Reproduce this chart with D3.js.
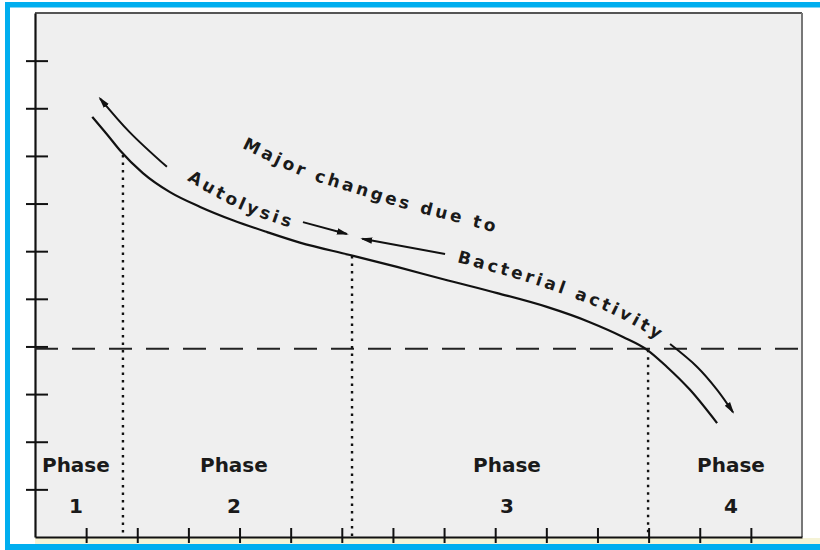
<!DOCTYPE html>
<html>
<head>
<meta charset="utf-8">
<script src="https://cdn.jsdelivr.net/npm/d3@7"></script>
<style>
  html, body { margin: 0; padding: 0; background: #fff; }
  svg { display: block; }
</style>
</head>
<body>
<svg id="chart"></svg>
<script>
// tick values (no labels on either axis)
const xTickValues = [1, 2, 3, 4, 5, 6, 7, 8, 9, 10, 11, 12, 13, 14];
const yTickValues = [1, 2, 3, 4, 5, 6, 7, 8, 9, 10];

// main curve (x, y in axis units)
const curve = [
    [1.12, 8.82], [1.41, 8.45], [1.66, 8.12], [2.11, 7.64], [2.64, 7.24],
    [3.23, 6.93], [3.87, 6.65], [4.54, 6.40], [5.18, 6.18], [6.16, 5.92],
    [7.08, 5.67], [8.06, 5.39], [9.04, 5.12], [10.01, 4.83], [10.85, 4.51],
    [11.50, 4.20], [11.97, 3.93], [12.36, 3.57], [12.81, 3.09], [13.34, 2.39]
];

// horizontal dashed threshold
const threshold = 3.95;

// phase boundaries (dotted lines), from the curve down to the axis
const boundaries = [
    { x: 1.72, top: 8.02 },
    { x: 6.20, top: 5.9 },
    { x: 11.99, top: 3.93 }
];

// arrows (drawn from first to last point, head at the end)
const arrows = [
    [[2.58, 7.77], [1.85, 8.50], [1.27, 9.21]],
    [[5.24, 6.61], [6.10, 6.36]],
    [[8.02, 5.94], [6.40, 6.26]],
    [[12.42, 4.05], [12.95, 3.57], [13.34, 3.09], [13.65, 2.62]]
];

// text running along the curve
const curvedLabels = [
    { text: "Major changes due to",
      path: [[4.05, 8.17], [5.22, 7.58], [6.36, 7.18], [7.33, 6.86], [8.31, 6.59], [9.04, 6.38], [9.6, 6.24]] },
    { text: "Autolysis",
      path: [[2.97, 7.49], [3.95, 6.91], [4.99, 6.49], [5.5, 6.33]] },
    { text: "Bacterial activity",
      path: [[8.25, 5.77], [9.29, 5.46], [10.27, 5.12], [11.25, 4.70], [12.13, 4.18], [12.5, 3.9]] }
];

// phase labels
const phaseNames = ["Phase", "Phase", "Phase", "Phase"];
const phaseNumbers = ["1", "2", "3", "4"];
const phaseCenters = [0.80, 3.89, 9.23, 13.61];
const phaseNameY = 1.36;
const phaseNumberY = 0.50;

const width = 820, height = 550;
const margin = { top: 13, right: 18, bottom: 13, left: 35 };
const innerW = width - margin.left - margin.right;
const innerH = height - margin.top - margin.bottom;

const svg = d3.select("#chart")
    .attr("width", width)
    .attr("height", height);

// blue frame around the picture
const blue = "#00aeef";
svg.append("rect").attr("x", 5).attr("y", 2).attr("width", width - 5).attr("height", 5.5).attr("fill", blue);
svg.append("rect").attr("x", 5).attr("y", 2).attr("width", 5).attr("height", height - 2).attr("fill", blue);
svg.append("rect").attr("x", 5).attr("y", 544).attr("width", width - 5).attr("height", 6).attr("fill", blue);
svg.append("rect").attr("x", 35).attr("y", 538).attr("width", width - 35).attr("height", 6).attr("fill", "#f5f3d6");

const defs = svg.append("defs");
defs.append("marker")
    .attr("id", "head")
    .attr("viewBox", "0 -4 12 8")
    .attr("refX", 10)
    .attr("refY", 0)
    .attr("markerWidth", 12)
    .attr("markerHeight", 8)
    .attr("markerUnits", "userSpaceOnUse")
    .attr("orient", "auto")
    .append("path")
    .attr("d", "M0,-3.2L12,0L0,3.2Z")
    .attr("fill", "#111");

const chart = svg.append("g")
    .attr("transform", `translate(${margin.left}, ${margin.top})`);

const x = d3.scaleLinear().domain([0, 15]).range([0, innerW]);
const y = d3.scaleLinear().domain([0, 11]).range([innerH, 0]);

chart.append("rect")
    .attr("width", innerW)
    .attr("height", innerH)
    .attr("fill", "#efefef");

// frame: top and right are lighter than the axes
chart.append("line")
    .attr("x1", 0).attr("x2", innerW).attr("y1", 0).attr("y2", 0)
    .attr("stroke", "#555").attr("stroke-width", 2);
chart.append("line")
    .attr("x1", innerW).attr("x2", innerW).attr("y1", 0).attr("y2", innerH)
    .attr("stroke", "#777").attr("stroke-width", 2);

// axes
const xAxis = d3.axisBottom(x).tickValues(xTickValues).tickFormat("").tickSizeOuter(0);
const yAxis = d3.axisLeft(y).tickValues(yTickValues).tickFormat("").tickSizeOuter(0);

const xg = chart.append("g")
    .attr("transform", `translate(0, ${innerH})`)
    .call(xAxis);
const yg = chart.append("g").call(yAxis);

xg.select(".domain").attr("stroke", "#111").attr("stroke-width", 2.2);
yg.select(".domain").attr("stroke", "#111").attr("stroke-width", 2.2);
xg.selectAll(".tick line").attr("y1", -9).attr("y2", 6).attr("stroke", "#111").attr("stroke-width", 2);
yg.selectAll(".tick line").attr("x1", -9).attr("x2", 13).attr("stroke", "#111").attr("stroke-width", 2);

// dashed threshold
chart.append("line")
    .attr("x1", 0).attr("x2", innerW)
    .attr("y1", y(threshold)).attr("y2", y(threshold))
    .attr("stroke", "#222")
    .attr("stroke-width", 2)
    .attr("stroke-dasharray", "23,14");

// dotted phase boundaries
chart.selectAll(".boundary")
    .data(boundaries)
    .enter().append("line")
    .attr("class", "boundary")
    .attr("x1", d => x(d.x)).attr("x2", d => x(d.x))
    .attr("y1", d => y(d.top)).attr("y2", y(0))
    .attr("stroke", "#111")
    .attr("stroke-width", 2.4)
    .attr("stroke-dasharray", "2.5,5");

const line = d3.line()
    .x(d => x(d[0]))
    .y(d => y(d[1]))
    .curve(d3.curveMonotoneX);

const smooth = d3.line()
    .x(d => x(d[0]))
    .y(d => y(d[1]))
    .curve(d3.curveCatmullRom);

// main curve
chart.append("path")
    .datum(curve)
    .attr("d", line)
    .attr("fill", "none")
    .attr("stroke", "#111")
    .attr("stroke-width", 2.2);

// arrows
chart.selectAll(".arrow")
    .data(arrows)
    .enter().append("path")
    .attr("class", "arrow")
    .attr("d", smooth)
    .attr("fill", "none")
    .attr("stroke", "#111")
    .attr("stroke-width", 2)
    .attr("marker-end", "url(#head)");

// labels along the curve
curvedLabels.forEach((lab, i) => {
    defs.append("path")
        .attr("id", "lp" + i)
        .attr("d", smooth(lab.path))
        .attr("transform", `translate(${margin.left}, ${margin.top})`);
    svg.append("text")
        .attr("font-family", "DejaVu Sans, sans-serif")
        .attr("font-weight", "bold")
        .attr("font-size", 17)
        .attr("letter-spacing", 3.1)
        .attr("fill", "#1a1a1a")
        .append("textPath")
        .attr("href", "#lp" + i)
        .text(lab.text);
});

// phase labels
chart.selectAll(".phase-name")
    .data(phaseNames)
    .enter().append("text")
    .attr("class", "phase-name")
    .attr("x", (d, i) => x(phaseCenters[i]))
    .attr("y", y(phaseNameY))
    .attr("text-anchor", "middle")
    .attr("font-family", "DejaVu Sans, sans-serif")
    .attr("font-weight", "bold")
    .attr("font-size", 20)
    .attr("fill", "#1a1a1a")
    .text(d => d);

chart.selectAll(".phase-num")
    .data(phaseNumbers)
    .enter().append("text")
    .attr("class", "phase-num")
    .attr("x", (d, i) => x(phaseCenters[i]))
    .attr("y", y(phaseNumberY))
    .attr("text-anchor", "middle")
    .attr("font-family", "DejaVu Sans, sans-serif")
    .attr("font-weight", "bold")
    .attr("font-size", 20)
    .attr("fill", "#1a1a1a")
    .text(d => d);
</script>
</body>
</html>
